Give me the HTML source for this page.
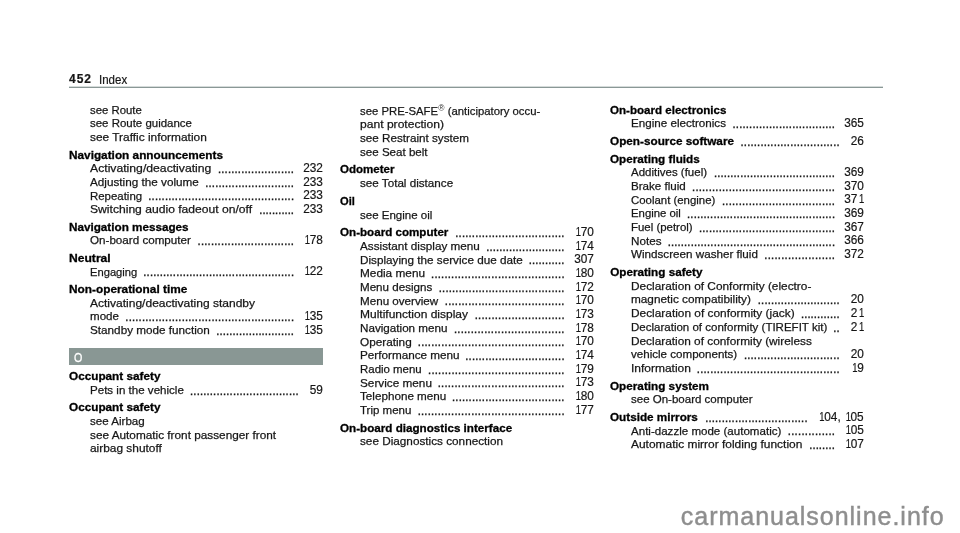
<!DOCTYPE html>
<html><head><meta charset="utf-8"><style>
html,body{margin:0;padding:0;background:#fff;}
body{width:960px;height:533px;position:relative;overflow:hidden;will-change:transform;font-family:"Liberation Sans",sans-serif;color:#161616;}
.t{position:absolute;white-space:nowrap;font-size:11.8px;line-height:14px;-webkit-text-stroke:0.25px #161616;transform-origin:0 0;}
.t.b{font-weight:bold;font-size:11.7px;color:#000;-webkit-text-stroke:0.3px #000;}
.n{position:absolute;white-space:nowrap;font-size:12.5px;line-height:14px;-webkit-text-stroke:0.2px #161616;text-align:right;transform:scaleX(0.945);transform-origin:100% 0;}
.n i{font-style:normal;display:inline-block;transform:translateX(0.9px) scaleX(0.8);}
.d{position:absolute;white-space:nowrap;overflow:hidden;font-size:13.0px;line-height:14px;-webkit-text-stroke:0.25px #161616;}
sup{font-size:8.8px;line-height:0;vertical-align:3.8px;-webkit-text-stroke:0;color:#333;margin-left:0.3px;}
.hdr{position:absolute;left:69px;top:86px;width:814px;height:1px;border-top:1px solid #d5dbda;background:#8a9896;}
.pn{position:absolute;left:69px;top:71.9px;font-size:12px;font-weight:bold;line-height:14px;letter-spacing:1px;white-space:nowrap;-webkit-text-stroke:0.2px #161616;}
.ix{position:absolute;left:99.4px;top:72.6px;font-size:12.5px;line-height:14px;white-space:nowrap;transform:scaleX(0.92);transform-origin:0 0;-webkit-text-stroke:0.2px #161616;}
.bar{position:absolute;height:17px;background:#899794;}
.bar span{position:absolute;left:4.5px;top:3.0px;color:#fff;font-size:12.6px;line-height:14px;transform:scaleX(0.85);transform-origin:0 0;-webkit-text-stroke:0.3px #fff;}
.wm{position:absolute;left:680.8px;top:500.7px;font-size:25px;line-height:31px;letter-spacing:0.98px;color:#8e8e8e;-webkit-text-stroke:0.45px #8e8e8e;white-space:nowrap;}
</style></head><body>
<div class="pn">452</div><div class="ix">Index</div><div class="hdr"></div>
<div class="t" style="left:89.6px;top:102.63px;transform:scaleX(0.9625)">see Route</div>
<div class="t" style="left:89.6px;top:116.32px;transform:scaleX(0.9713)">see Route guidance</div>
<div class="t" style="left:89.6px;top:130.01px;transform:scaleX(1.0078)">see Traffic information</div>
<div class="t b" style="left:69px;top:147.53px;transform:scaleX(1.0092)">Navigation announcements</div>
<div class="t" style="left:89.6px;top:161.18px;transform:scaleX(1.0341)">Activating/deactivating</div>
<div class="n" style="right:637.00px;top:160.94px">232</div>
<div class="d" style="left:217.70px;top:161.60px;letter-spacing:-0.298px">.......................</div>
<div class="t" style="left:89.6px;top:174.87px;transform:scaleX(0.9936)">Adjusting the volume</div>
<div class="n" style="right:637.00px;top:174.63px">233</div>
<div class="d" style="left:205.00px;top:175.60px;letter-spacing:-0.319px">...........................</div>
<div class="t" style="left:89.6px;top:188.56px;transform:scaleX(0.9691)">Repeating</div>
<div class="n" style="right:637.00px;top:188.32px">233</div>
<div class="d" style="left:148.05px;top:188.60px;letter-spacing:-0.296px">............................................</div>
<div class="t" style="left:89.6px;top:202.25px;transform:scaleX(1.0271)">Switching audio fadeout on/off</div>
<div class="n" style="right:637.00px;top:202.01px">233</div>
<div class="d" style="left:259.00px;top:202.60px;letter-spacing:-0.451px">...........</div>
<div class="t b" style="left:69px;top:219.77px;transform:scaleX(1.0008)">Navigation messages</div>
<div class="t" style="left:89.6px;top:233.42px;transform:scaleX(0.9863)">On-board computer</div>
<div class="n" style="right:637.00px;top:233.18px"><i>1</i>78</div>
<div class="d" style="left:197.30px;top:233.60px;letter-spacing:-0.279px">.............................</div>
<div class="t b" style="left:69px;top:250.94px;transform:scaleX(1.0350)">Neutral</div>
<div class="t" style="left:89.6px;top:264.59px;transform:scaleX(0.9474)">Engaging</div>
<div class="n" style="right:637.00px;top:264.35px"><i>1</i>22</div>
<div class="d" style="left:143.10px;top:264.60px;letter-spacing:-0.333px">..............................................</div>
<div class="t b" style="left:69px;top:282.11px;transform:scaleX(1.0120)">Non-operational time</div>
<div class="t" style="left:89.6px;top:295.76px;transform:scaleX(1.0191)">Activating/deactivating standby</div>
<div class="t" style="left:89.6px;top:309.45px;transform:scaleX(0.9796)">mode</div>
<div class="n" style="right:637.00px;top:309.21px"><i>1</i>35</div>
<div class="d" style="left:125.10px;top:309.60px;letter-spacing:-0.301px">...................................................</div>
<div class="t" style="left:89.6px;top:323.14px;transform:scaleX(0.9934)">Standby mode function</div>
<div class="n" style="right:637.00px;top:322.90px"><i>1</i>35</div>
<div class="d" style="left:215.90px;top:323.60px;letter-spacing:-0.363px">........................</div>
<div class="bar" style="left:69px;top:348px;width:254px"><span>O</span></div>
<div class="t b" style="left:69px;top:369.15px;transform:scaleX(1.0055)">Occupant safety</div>
<div class="t" style="left:89.6px;top:382.80px;transform:scaleX(0.9801)">Pets in the vehicle</div>
<div class="n" style="right:637.00px;top:382.56px">59</div>
<div class="d" style="left:189.80px;top:383.60px;letter-spacing:-0.317px">.................................</div>
<div class="t b" style="left:69px;top:400.32px;transform:scaleX(1.0055)">Occupant safety</div>
<div class="t" style="left:89.6px;top:413.97px;transform:scaleX(0.9819)">see Airbag</div>
<div class="t" style="left:89.6px;top:427.66px;transform:scaleX(0.9995)">see Automatic front passenger front</div>
<div class="t" style="left:89.6px;top:441.35px;transform:scaleX(1.0084)">airbag shutoff</div>
<div class="t" style="left:359.6px;top:103.72px;transform:scaleX(0.9600)">see PRE-SAFE<sup>®</sup> (anticipatory occu-</div>
<div class="t" style="left:359.6px;top:117.39px;transform:scaleX(1.0246)">pant protection)</div>
<div class="t" style="left:359.6px;top:131.06px;transform:scaleX(0.9890)">see Restraint system</div>
<div class="t" style="left:359.6px;top:144.72px;transform:scaleX(0.9813)">see Seat belt</div>
<div class="t b" style="left:340px;top:162.49px;transform:scaleX(0.9875)">Odometer</div>
<div class="t" style="left:359.6px;top:176.13px;transform:scaleX(0.9883)">see Total distance</div>
<div class="t b" style="left:340px;top:193.90px;transform:scaleX(0.9533)">Oil</div>
<div class="t" style="left:359.6px;top:207.53px;transform:scaleX(0.9768)">see Engine oil</div>
<div class="t b" style="left:340px;top:225.30px;transform:scaleX(0.9936)">On-board computer</div>
<div class="n" style="right:366.50px;top:225.02px"><i>1</i>70</div>
<div class="d" style="left:455.00px;top:225.60px;letter-spacing:-0.296px">.................................</div>
<div class="t" style="left:359.6px;top:238.93px;transform:scaleX(0.9934)">Assistant display menu</div>
<div class="n" style="right:366.50px;top:238.69px"><i>1</i>74</div>
<div class="d" style="left:485.90px;top:239.60px;letter-spacing:-0.342px">........................</div>
<div class="t" style="left:359.6px;top:252.60px;transform:scaleX(0.9927)">Displaying the service due date</div>
<div class="n" style="right:366.50px;top:252.36px">307</div>
<div class="d" style="left:528.50px;top:252.60px;letter-spacing:-0.351px">...........</div>
<div class="t" style="left:359.6px;top:266.27px;transform:scaleX(1.0016)">Media menu</div>
<div class="n" style="right:366.50px;top:266.03px"><i>1</i>80</div>
<div class="d" style="left:430.80px;top:266.60px;letter-spacing:-0.270px">........................................</div>
<div class="t" style="left:359.6px;top:279.94px;transform:scaleX(0.9837)">Menu designs</div>
<div class="n" style="right:366.50px;top:279.69px"><i>1</i>72</div>
<div class="d" style="left:438.50px;top:280.60px;letter-spacing:-0.298px">......................................</div>
<div class="t" style="left:359.6px;top:293.60px;transform:scaleX(0.9861)">Menu overview</div>
<div class="n" style="right:366.50px;top:293.36px"><i>1</i>70</div>
<div class="d" style="left:444.60px;top:293.60px;letter-spacing:-0.283px">....................................</div>
<div class="t" style="left:359.6px;top:307.27px;transform:scaleX(1.0169)">Multifunction display</div>
<div class="n" style="right:366.50px;top:307.03px"><i>1</i>73</div>
<div class="d" style="left:474.50px;top:307.60px;letter-spacing:-0.280px">...........................</div>
<div class="t" style="left:359.6px;top:320.94px;transform:scaleX(0.9887)">Navigation menu</div>
<div class="n" style="right:366.50px;top:320.69px"><i>1</i>78</div>
<div class="d" style="left:453.70px;top:321.60px;letter-spacing:-0.255px">.................................</div>
<div class="t" style="left:359.6px;top:334.60px;transform:scaleX(0.9981)">Operating</div>
<div class="n" style="right:366.50px;top:334.36px"><i>1</i>70</div>
<div class="d" style="left:417.60px;top:334.60px;letter-spacing:-0.274px">............................................</div>
<div class="t" style="left:359.6px;top:348.27px;transform:scaleX(0.9930)">Performance menu</div>
<div class="n" style="right:366.50px;top:348.03px"><i>1</i>74</div>
<div class="d" style="left:465.00px;top:348.60px;letter-spacing:-0.297px">..............................</div>
<div class="t" style="left:359.6px;top:361.94px;transform:scaleX(0.9700)">Radio menu</div>
<div class="n" style="right:366.50px;top:361.69px"><i>1</i>79</div>
<div class="d" style="left:427.80px;top:362.60px;letter-spacing:-0.279px">.........................................</div>
<div class="t" style="left:359.6px;top:375.60px;transform:scaleX(0.9972)">Service menu</div>
<div class="n" style="right:366.50px;top:375.36px"><i>1</i>73</div>
<div class="d" style="left:437.50px;top:375.60px;letter-spacing:-0.271px">......................................</div>
<div class="t" style="left:359.6px;top:389.27px;transform:scaleX(0.9896)">Telephone menu</div>
<div class="n" style="right:366.50px;top:389.03px"><i>1</i>80</div>
<div class="d" style="left:451.80px;top:389.60px;letter-spacing:-0.299px">..................................</div>
<div class="t" style="left:359.6px;top:402.94px;transform:scaleX(0.9752)">Trip menu</div>
<div class="n" style="right:366.50px;top:402.70px"><i>1</i>77</div>
<div class="d" style="left:417.40px;top:403.60px;letter-spacing:-0.269px">............................................</div>
<div class="t b" style="left:340px;top:420.71px;transform:scaleX(0.9965)">On-board diagnostics interface</div>
<div class="t" style="left:359.6px;top:434.34px;transform:scaleX(0.9958)">see Diagnostics connection</div>
<div class="t b" style="left:610.2px;top:102.64px;transform:scaleX(0.9898)">On-board electronics</div>
<div class="t" style="left:630.9px;top:116.29px;transform:scaleX(0.9854)">Engine electronics</div>
<div class="n" style="right:96.00px;top:116.04px">365</div>
<div class="d" style="left:732.30px;top:116.60px;letter-spacing:-0.301px">...............................</div>
<div class="t b" style="left:610.2px;top:133.99px;transform:scaleX(1.0049)">Open-source software</div>
<div class="n" style="right:96.00px;top:133.72px">26</div>
<div class="d" style="left:740.30px;top:134.60px;letter-spacing:-0.304px">..............................</div>
<div class="t b" style="left:610.2px;top:151.67px;transform:scaleX(1.0011)">Operating fluids</div>
<div class="t" style="left:630.9px;top:165.32px;transform:scaleX(0.9744)">Additives (fuel)</div>
<div class="n" style="right:96.00px;top:165.07px">369</div>
<div class="d" style="left:713.70px;top:165.60px;letter-spacing:-0.336px">.....................................</div>
<div class="t" style="left:630.9px;top:179.00px;transform:scaleX(0.9837)">Brake fluid</div>
<div class="n" style="right:96.00px;top:178.76px">370</div>
<div class="d" style="left:691.80px;top:179.60px;letter-spacing:-0.283px">...........................................</div>
<div class="t" style="left:630.9px;top:192.69px;transform:scaleX(0.9667)">Coolant (engine)</div>
<div class="n" style="right:96.00px;top:192.44px">37<i>1</i></div>
<div class="d" style="left:721.80px;top:193.60px;letter-spacing:-0.284px">..................................</div>
<div class="t" style="left:630.9px;top:206.37px;transform:scaleX(0.9628)">Engine oil</div>
<div class="n" style="right:96.00px;top:206.13px">369</div>
<div class="d" style="left:686.80px;top:206.60px;letter-spacing:-0.320px">.............................................</div>
<div class="t" style="left:630.9px;top:220.05px;transform:scaleX(0.9683)">Fuel (petrol)</div>
<div class="n" style="right:96.00px;top:219.81px">367</div>
<div class="d" style="left:698.70px;top:220.60px;letter-spacing:-0.289px">.........................................</div>
<div class="t" style="left:630.9px;top:233.74px;transform:scaleX(0.9900)">Notes</div>
<div class="n" style="right:96.00px;top:233.49px">366</div>
<div class="d" style="left:667.40px;top:234.60px;letter-spacing:-0.327px">...................................................</div>
<div class="t" style="left:630.9px;top:247.42px;transform:scaleX(0.9875)">Windscreen washer fluid</div>
<div class="n" style="right:96.00px;top:247.18px">372</div>
<div class="d" style="left:764.10px;top:247.60px;letter-spacing:-0.236px">.....................</div>
<div class="t b" style="left:610.2px;top:265.13px">Operating safety</div>
<div class="t" style="left:630.9px;top:278.78px;transform:scaleX(1.0039)">Declaration of Conformity (electro-</div>
<div class="t" style="left:630.9px;top:292.46px;transform:scaleX(0.9992)">magnetic compatibility)</div>
<div class="n" style="right:96.00px;top:292.22px">20</div>
<div class="d" style="left:757.60px;top:292.60px;letter-spacing:-0.336px">.........................</div>
<div class="t" style="left:630.9px;top:306.15px;transform:scaleX(1.0062)">Declaration of conformity (jack)</div>
<div class="n" style="right:96.00px;top:305.90px">2<i>1</i></div>
<div class="d" style="left:800.70px;top:306.60px;letter-spacing:-0.384px">............</div>
<div class="t" style="left:630.9px;top:319.83px;transform:scaleX(0.9761)">Declaration of conformity (TIREFIT kit)</div>
<div class="n" style="right:96.00px;top:319.59px">2<i>1</i></div>
<div class="d" style="left:832.89px;top:320.60px;letter-spacing:-0.301px">..</div>
<div class="t" style="left:630.9px;top:333.52px;transform:scaleX(1.0028)">Declaration of conformity (wireless</div>
<div class="t" style="left:630.9px;top:347.20px;transform:scaleX(0.9815)">vehicle components)</div>
<div class="n" style="right:96.00px;top:346.96px">20</div>
<div class="d" style="left:743.70px;top:347.60px;letter-spacing:-0.308px">.............................</div>
<div class="t" style="left:630.9px;top:360.88px;transform:scaleX(1.0155)">Information</div>
<div class="n" style="right:96.00px;top:360.64px"><i>1</i>9</div>
<div class="d" style="left:696.60px;top:361.60px;letter-spacing:-0.287px">...........................................</div>
<div class="t b" style="left:610.2px;top:378.59px;transform:scaleX(1.0030)">Operating system</div>
<div class="t" style="left:630.9px;top:392.24px;transform:scaleX(0.9760)">see On-board computer</div>
<div class="t b" style="left:610.2px;top:409.95px;transform:scaleX(1.0023)">Outside mirrors</div>
<div class="n" style="right:96.00px;top:409.67px"><i>1</i>04, <i>1</i>05</div>
<div class="d" style="left:704.90px;top:410.60px;letter-spacing:-0.304px">...............................</div>
<div class="t" style="left:630.9px;top:423.60px;transform:scaleX(0.9798)">Anti-dazzle mode (automatic)</div>
<div class="n" style="right:96.00px;top:423.36px"><i>1</i>05</div>
<div class="d" style="left:787.60px;top:423.60px;letter-spacing:-0.227px">..............</div>
<div class="t" style="left:630.9px;top:437.28px;transform:scaleX(1.0130)">Automatic mirror folding function</div>
<div class="n" style="right:96.00px;top:437.04px"><i>1</i>07</div>
<div class="d" style="left:808.90px;top:437.60px;letter-spacing:-0.368px">........</div>
<div class="wm">carmanualsonline.info</div>
</body></html>
